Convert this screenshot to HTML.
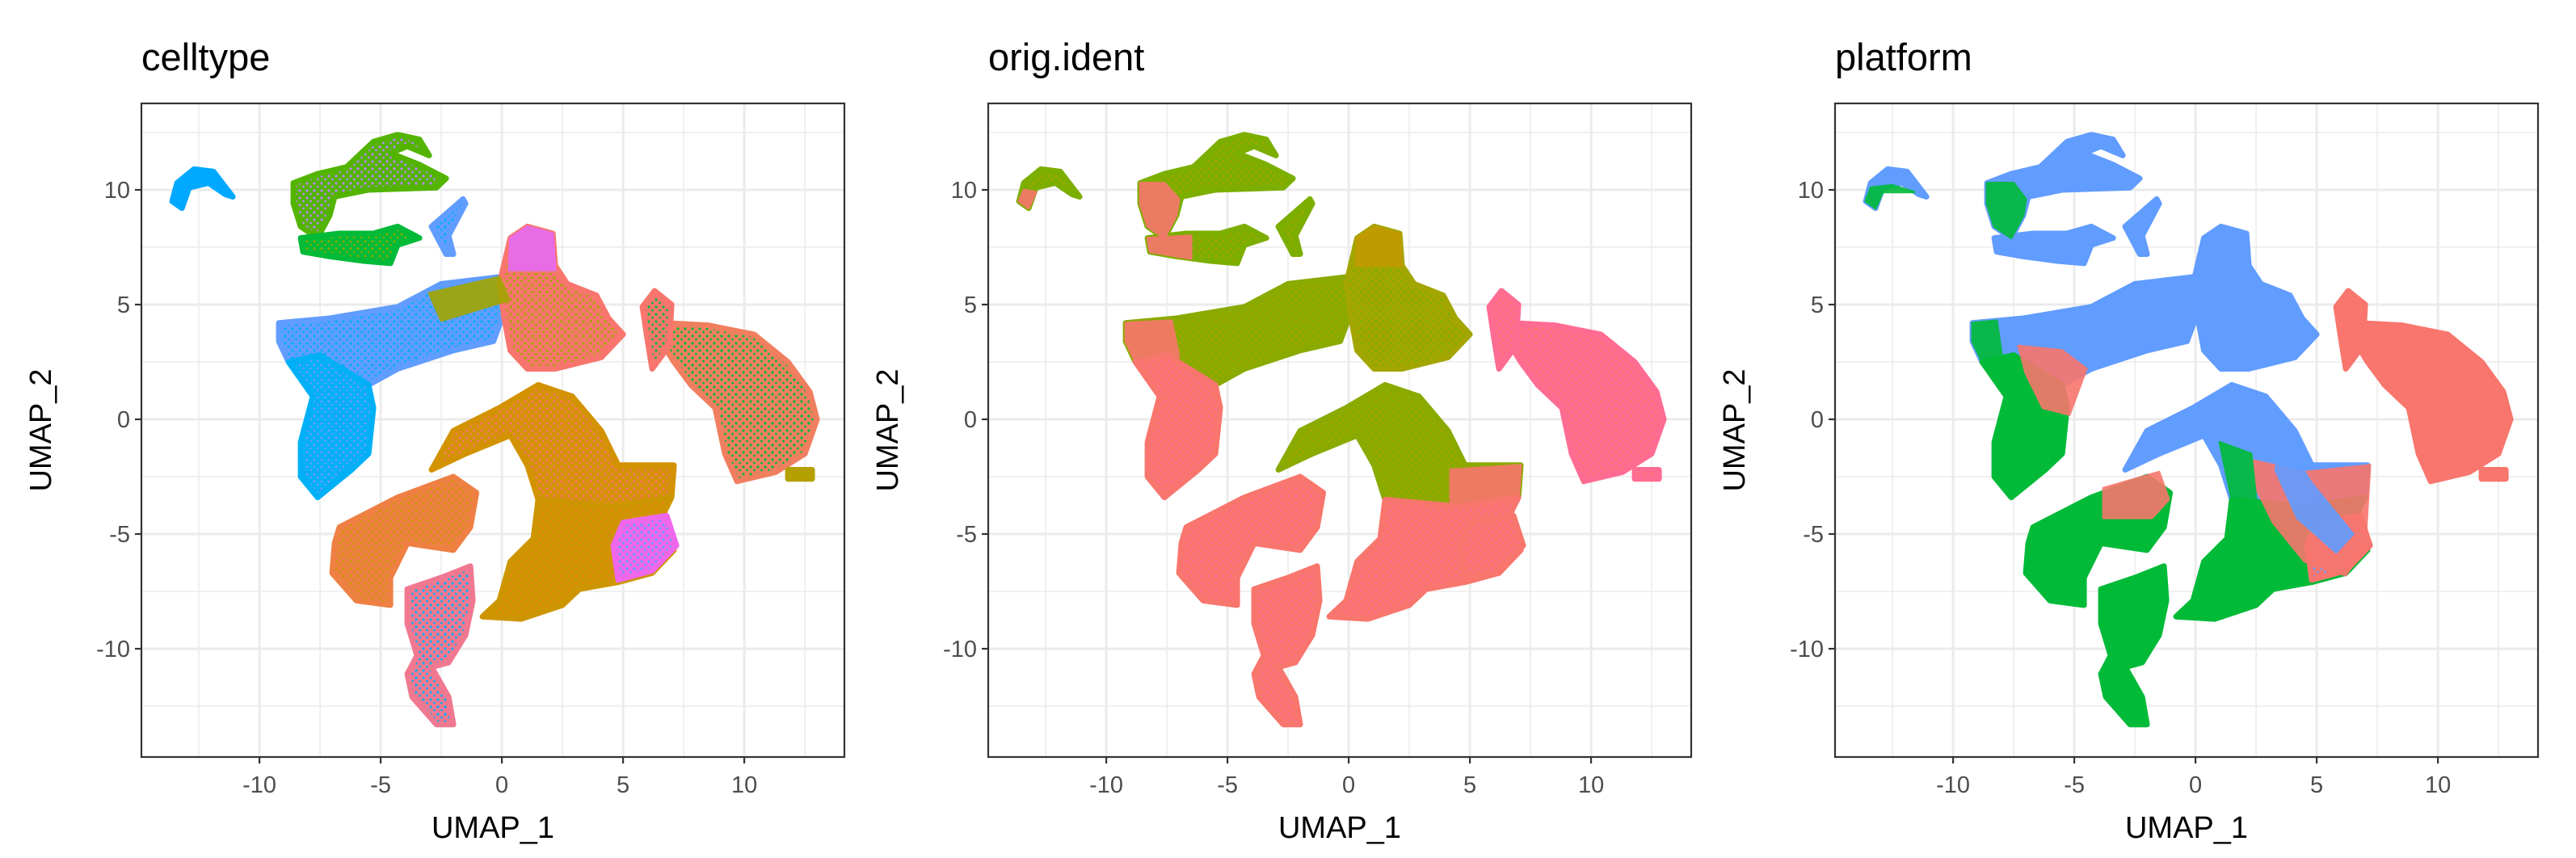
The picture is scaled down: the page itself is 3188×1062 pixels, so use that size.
<!DOCTYPE html>
<html><head><meta charset="utf-8"><style>
html,body{margin:0;padding:0;background:#fff}
svg{display:block}
text{font-family:"Liberation Sans","DejaVu Sans",sans-serif}
</style></head><body>
<svg id="fig" width="3188" height="1062" viewBox="0 0 3188 1062" xmlns="http://www.w3.org/2000/svg"></svg>
<script>
// ---- data (UMAP coordinates) ----
const panelTitles = ["celltype", "orig.ident", "platform"];
const xTicks = [-10, -5, 0, 5, 10];
const yTicks = [-10, -5, 0, 5, 10];
const xTickLabels = ["-10", "-5", "0", "5", "10"];
const yTickLabels = ["-10", "-5", "0", "5", "10"];
const xMinor = [-12.5, -7.5, -2.5, 2.5, 7.5, 12.5];
const yMinor = [-12.5, -7.5, -2.5, 2.5, 7.5, 12.5];

const regionNames = ["arc","top","arm","branch","left-upper","left-lower","center-top","right","right-spur","right-tail","center-upper","center-lower","center-pink","left-bottom","stalk"];
const regionShapes = [
 [[-13.6,9.5],[-13.4,10.3],[-12.7,10.9],[-11.9,10.8],[-11.1,9.7],[-11.4,9.8],[-12.1,10.3],[-12.9,10.1],[-13.2,9.2]],
 [[-8.6,10.3],[-7.6,10.7],[-6.4,11.0],[-5.3,12.1],[-4.3,12.4],[-3.4,12.2],[-3.0,11.5],[-3.9,11.9],[-4.6,11.6],[-3.4,11.1],[-2.3,10.5],[-2.7,10.1],[-5.5,10.0],[-6.9,9.7],[-7.1,8.9],[-7.6,7.9],[-8.3,8.4],[-8.6,9.4]],
 [[-8.3,7.9],[-6.7,8.1],[-5.3,8.1],[-4.3,8.4],[-3.4,7.9],[-4.3,7.6],[-4.6,6.8],[-5.7,6.9],[-7.1,7.1],[-8.2,7.3]],
 [[-2.9,8.4],[-1.6,9.6],[-1.5,9.4],[-2.2,8.0],[-2.0,7.2],[-2.3,7.2]],
 [[-9.2,4.2],[-7.1,4.4],[-4.3,4.9],[-2.5,5.9],[-0.1,6.2],[0.35,5.4],[-0.35,3.4],[-2.0,3.0],[-4.3,2.2],[-5.5,1.5],[-7.5,2.8],[-8.8,2.5],[-9.2,3.4]],
 [[-7.5,2.8],[-5.5,1.5],[-5.3,0.5],[-5.5,-1.5],[-6.2,-2.2],[-7.6,-3.4],[-8.3,-2.5],[-8.3,-1.0],[-7.8,1.0],[-8.8,2.5]],
 [[0.35,7.9],[1.05,8.4],[2.1,8.1],[2.2,6.7],[2.7,5.9],[3.9,5.4],[4.4,4.4],[5.0,3.7],[4.1,2.7],[2.2,2.2],[1.05,2.2],[0.35,3.0],[0.1,4.4],[-0.1,5.9]],
 [[6.7,4.2],[8.5,4.1],[10.4,3.7],[11.8,2.5],[12.7,1.2],[13.0,0],[12.5,-1.5],[11.3,-2.3],[9.7,-2.7],[9.2,-1.5],[8.8,0.5],[7.8,1.5],[7.1,2.5],[6.4,3.7]],
 [[5.8,4.9],[6.3,5.6],[7.0,5.0],[6.9,3.2],[6.2,2.2],[6.0,3.5]],
 [[11.8,-2.2],[12.8,-2.2],[12.8,-2.6],[11.8,-2.6]],
 [[1.5,1.5],[2.9,1.0],[4.1,-0.5],[4.8,-2.0],[7.1,-2.0],[7.0,-3.4],[4.5,-3.8],[1.5,-3.5],[1.05,-2.0],[0.35,-0.7],[-1.5,-1.5],[-2.9,-2.2],[-2.0,-0.5],[-0.1,0.5]],
 [[1.5,-3.5],[4.5,-3.8],[7.0,-3.4],[6.4,-4.7],[7.1,-5.7],[6.2,-6.7],[4.8,-7.1],[3.2,-7.4],[2.5,-8.1],[0.8,-8.7],[-0.8,-8.6],[-0.1,-7.9],[0.35,-6.2],[1.3,-5.2]],
 [[5.0,-4.5],[6.8,-4.2],[7.2,-5.5],[6.2,-6.6],[4.8,-7.0],[4.6,-5.5]],
 [[-6.7,-4.7],[-4.3,-3.4],[-2.0,-2.5],[-1.05,-3.2],[-1.3,-4.7],[-2.0,-5.7],[-3.9,-5.4],[-4.6,-6.9],[-4.6,-8.1],[-6.0,-7.9],[-7.0,-6.7],[-6.9,-5.4]],
 [[-3.9,-7.4],[-2.5,-6.9],[-1.3,-6.4],[-1.2,-7.9],[-1.5,-9.4],[-2.2,-10.6],[-2.9,-10.8],[-2.2,-12.1],[-2.0,-13.3],[-2.7,-13.3],[-3.7,-12.1],[-3.9,-11.1],[-3.5,-10.3],[-3.9,-8.9]]
];
const fillCelltype = ["#00A9FF","#53B400","#00BA38","#619CFF","#619CFF","#00B0F6","#F8766D","#F07F60","#F8766D","#B5A000","#D39200","#CD9600","#EF67EB","#EE8044","#F07890"];
const speckCelltype = ["#00B0F6","#B983FF","#7CAE00","#00B0F6","#00B0F6","#619CFF","#A3A500","#00BA38","#00BA38","#A3A500","#F8766D","#E68613","#619CFF","#CD9600","#00B0F6"];
const fillOrig = ["#7CAE00","#7CAE00","#7CAE00","#7CAE00","#8AAA00","#F8766D","#A3A500","#FF6C91","#FF6C91","#FF6C91","#8AAA00","#F8766D","#F8766D","#F8766D","#F8766D"];
const speckOrig = ["#A3A500","#A3A500","#A3A500","#A3A500","#A3A500","#FF6C91","#7CAE00","#F8766D","#F8766D","#F8766D","#A3A500","#FF6C91","#FF6C91","#FF6C91","#FF6C91"];
const fillPlatform = ["#619CFF","#619CFF","#619CFF","#619CFF","#619CFF","#00BA38","#619CFF","#F8766D","#F8766D","#F8766D","#619CFF","#00BA38","#F8766D","#00BA38","#00BA38"];
const speckPlatform = ["#619CFF","#619CFF","#619CFF","#619CFF","#619CFF","#00BA38","#619CFF","#F8766D","#F8766D","#F8766D","#619CFF","#00BA38","#619CFF","#00BA38","#00BA38"];

// overlay patches: panel index, colour, shape
const patchPanel = [0,0,1,1,1,1,1,1,2,2,2,2,2,2,2,2];
const patchColor = ["#E76BF3","#A3A500","#F8766D","#F8766D","#F8766D","#F8766D","#C49A00","#F8766D","#F8766D","#F8766D","#F8766D","#619CFF","#00BA38","#00BA38","#00BA38","#00BA38"];
const patchShapes = [
 [[0.35,7.9],[1.05,8.4],[2.1,8.1],[2.2,6.5],[0.3,6.5]],
 [[-3.0,5.5],[-0.1,6.2],[0.3,5.2],[-2.5,4.3]],
 [[-13.6,9.5],[-13.4,10.0],[-12.9,9.9],[-13.2,9.2]],
 [[-8.6,10.3],[-7.6,10.3],[-7.0,9.6],[-7.1,8.9],[-7.6,7.9],[-8.3,8.4],[-8.6,9.4]],
 [[-8.3,7.9],[-6.5,8.0],[-6.5,7.0],[-8.2,7.3]],
 [[-9.2,4.2],[-7.3,4.3],[-7.0,2.7],[-8.8,2.5],[-9.2,3.4]],
 [[0.35,7.9],[1.05,8.4],[2.1,8.1],[2.2,6.7],[0.3,6.7]],
 [[4.2,-2.2],[7.1,-2.0],[7.0,-3.6],[4.2,-3.8]],
 [[-7.3,3.2],[-5.5,3.0],[-4.5,2.2],[-5.2,0.2],[-6.3,0.5],[-7.0,2.0]],
 [[-3.8,-3.0],[-1.5,-2.3],[-1.1,-3.5],[-1.8,-4.3],[-3.8,-4.3]],
 [[2.4,-1.8],[4.5,-2.3],[7.2,-2.0],[7.0,-5.5],[6.2,-6.8],[4.5,-6.2],[3.2,-4.5],[2.5,-3.0]],
 [[3.6,-0.8],[4.8,-2.8],[6.5,-5.0],[5.8,-5.8],[4.2,-4.3],[3.3,-2.2]],
 [[1.0,-1.0],[2.3,-1.5],[2.5,-3.5],[1.5,-3.5]],
 [[-13.6,9.5],[-13.4,10.1],[-12.5,10.2],[-11.6,9.9],[-12.9,9.9],[-13.2,9.2]],
 [[-8.6,10.3],[-7.5,10.3],[-7.0,9.6],[-7.1,8.9],[-7.6,7.9],[-8.3,8.4],[-8.6,9.4]],
 [[-9.2,4.2],[-8.2,4.3],[-8.0,2.8],[-8.8,2.5],[-9.2,3.4]]
];

// ---- layout ----
const NS = "http://www.w3.org/2000/svg";
const svg = document.getElementById('fig');
const panelLeft = [175, 1223, 2271];
const frameW = 870, frameTop = 128, frameBottom = 937;
const xMinV = -14.87, xPerPx = 30.0;
const y0px = 519, yPerUnit = 28.4;
const fills = [fillCelltype, fillOrig, fillPlatform];
const specks = [speckCelltype, speckOrig, speckPlatform];

function el(tag, attrs, parent) {
  const e = document.createElementNS(NS, tag);
  for (const k in attrs) e.setAttribute(k, attrs[k]);
  (parent || svg).appendChild(e);
  return e;
}
const defs = el('defs', {});

panelTitles.forEach((title, p) => {
  const L = panelLeft[p];
  const sx = v => L + (v - xMinV) * xPerPx;
  const sy = v => y0px - v * yPerUnit;
  const g = el('g', {});
  
  

  const clipId = 'clip' + p;
  const cp = el('clipPath', {id: clipId}, defs);
  el('rect', {x: L, y: frameTop, width: frameW, height: frameBottom - frameTop}, cp);

  const bg = el('rect', {x: L, y: frameTop, width: frameW, height: frameBottom - frameTop, fill: '#fff'}, g);
  
  

  const grid = el('g', {'clip-path': 'url(#' + clipId + ')'}, g);
  
  
  xMinor.forEach(v => el('line', {x1: sx(v), x2: sx(v), y1: frameTop, y2: frameBottom, stroke: '#EBEBEB', 'stroke-width': 1.5}, grid));
  yMinor.forEach(v => el('line', {x1: L, x2: L + frameW, y1: sy(v), y2: sy(v), stroke: '#EBEBEB', 'stroke-width': 1.5}, grid));
  xTicks.forEach(v => el('line', {x1: sx(v), x2: sx(v), y1: frameTop, y2: frameBottom, stroke: '#EBEBEB', 'stroke-width': 3}, grid));
  yTicks.forEach(v => el('line', {x1: L, x2: L + frameW, y1: sy(v), y2: sy(v), stroke: '#EBEBEB', 'stroke-width': 3}, grid));

  const pts = el('g', {'clip-path': 'url(#' + clipId + ')'}, g);
  
  
  regionShapes.forEach((shape, i) => {
    const pid = 'sp' + p + '_' + i;
    const pat = el('pattern', {id: pid, width: 9, height: 9, patternUnits: 'userSpaceOnUse'}, defs);
    el('rect', {width: 9, height: 9, fill: fills[p][i]}, pat);
    el('circle', {cx: 2, cy: 2, r: 1.6, fill: specks[p][i]}, pat);
    el('circle', {cx: 6.5, cy: 6, r: 1.4, fill: specks[p][i]}, pat);
    const d = shape.map((q, k) => (k ? 'L' : 'M') + sx(q[0]).toFixed(1) + ',' + sy(q[1]).toFixed(1)).join('') + 'Z';
    const path = el('path', {d: d, fill: 'url(#' + pid + ')', stroke: fills[p][i], 'stroke-width': 7, 'stroke-linejoin': 'round'}, pts);
    
    
  });
  patchShapes.forEach((shape, j) => {
    if (patchPanel[j] !== p) return;
    const d = shape.map((q, k) => (k ? 'L' : 'M') + sx(q[0]).toFixed(1) + ',' + sy(q[1]).toFixed(1)).join('') + 'Z';
    const path = el('path', {d: d, fill: patchColor[j], stroke: patchColor[j], 'stroke-width': 3, 'stroke-linejoin': 'round', opacity: 0.9}, pts);
    
    
  });

  const frame = el('rect', {x: L, y: frameTop, width: frameW, height: frameBottom - frameTop, fill: 'none', stroke: '#333333', 'stroke-width': 2.2}, g);
  
  

  xTicks.forEach((v, k) => {
    el('line', {x1: sx(v), x2: sx(v), y1: frameBottom, y2: frameBottom + 8, stroke: '#333', 'stroke-width': 2.2}, g);
    const t = el('text', {x: sx(v), y: frameBottom + 44, 'text-anchor': 'middle', 'font-size': 29, fill: '#4D4D4D'}, g);
    t.textContent = xTickLabels[k];
    
    
  });
  yTicks.forEach((v, k) => {
    el('line', {x1: L - 8, x2: L, y1: sy(v), y2: sy(v), stroke: '#333', 'stroke-width': 2.2}, g);
    const t = el('text', {x: L - 14, y: sy(v) + 10, 'text-anchor': 'end', 'font-size': 29, fill: '#4D4D4D'}, g);
    t.textContent = yTickLabels[k];
    
    
  });

  const xt = el('text', {x: L + frameW / 2, y: 1037, 'text-anchor': 'middle', 'font-size': 38, fill: '#000'}, g);
  xt.textContent = 'UMAP_1';
  
  
  const yx = L - 112, yy = (frameTop + frameBottom) / 2;
  const yt = el('text', {x: yx, y: yy, 'text-anchor': 'middle', 'font-size': 38, fill: '#000', transform: 'rotate(-90 ' + yx + ' ' + yy + ')'}, g);
  yt.textContent = 'UMAP_2';
  
  

  const tt = el('text', {x: L, y: 87, 'font-size': 47, fill: '#000'}, g);
  tt.textContent = title;
  
  
});
</script>
</body></html>
